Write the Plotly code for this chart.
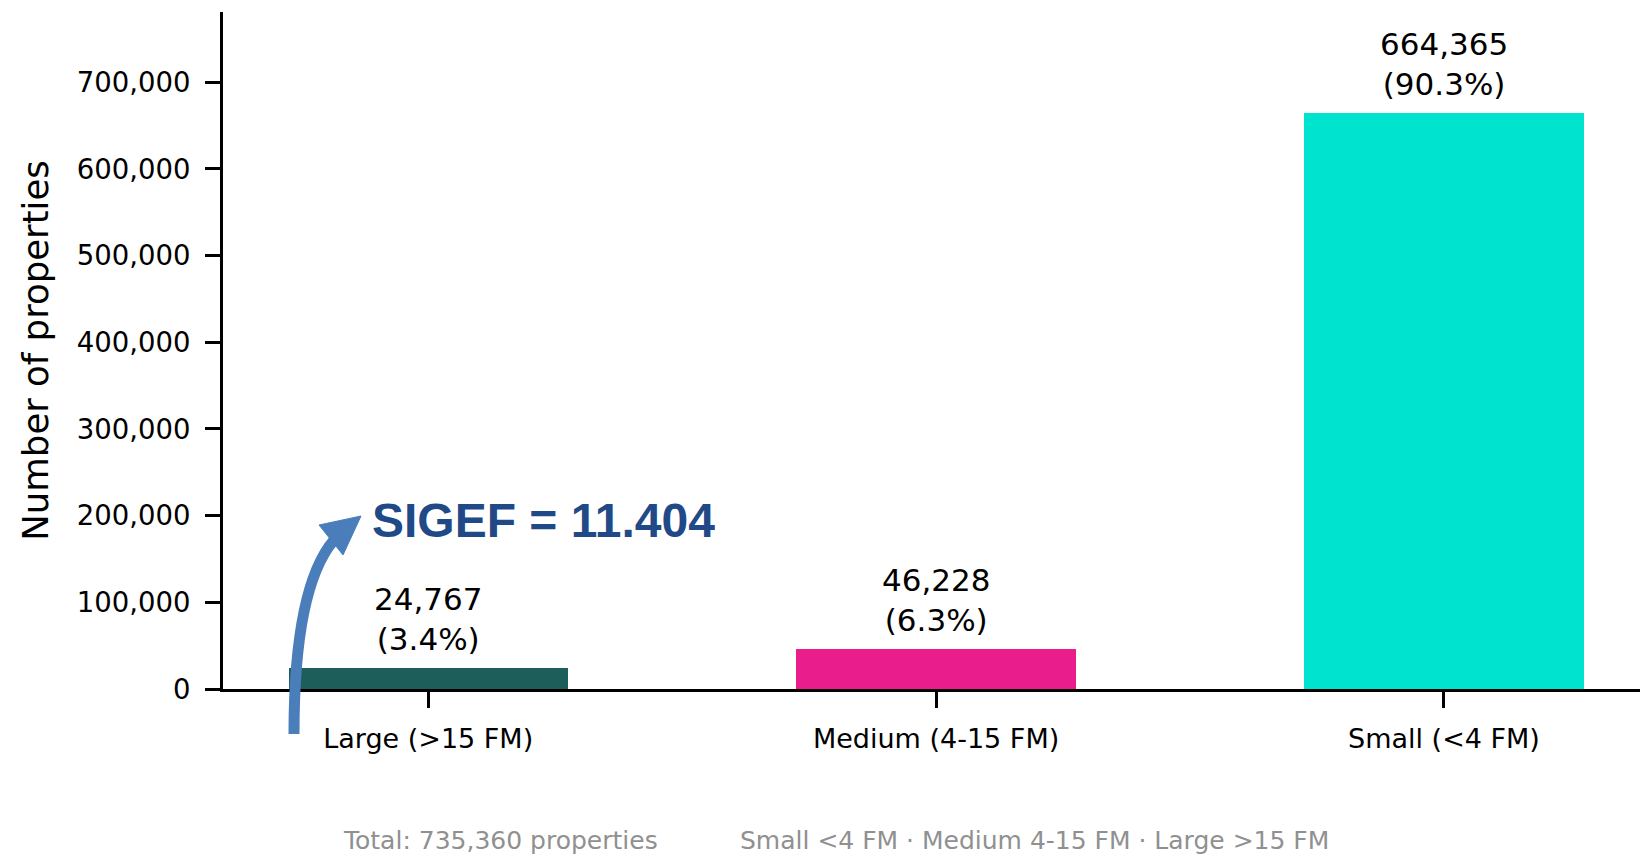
import plotly.graph_objects as go

# ---- data ----
categories = ["Large (>15 FM)", "Medium (4-15 FM)", "Small (<4 FM)"]
counts = [24767, 46228, 664365]
bar_colors = ["#1d5d5a", "#e91e8c", "#00e3cf"]
total_label = "Total: 735,360 properties"
legend_note = "Small <4 FM \u00b7 Medium 4-15 FM \u00b7 Large >15 FM"
callout = "SIGEF = 11.404"

total = sum(counts)
pcts = [c / total * 100 for c in counts]

W, H = 1640, 854
L, R, T, B = 223, 0, 12, 165
PW, PH = W - L - R, H - T - B


def px(x, y):
    """pixel -> paper coords (decoration only)"""
    return (x - L) / PW, (H - B - y) / PH


xs = list(range(len(categories)))

fig = go.Figure()
fig.add_trace(go.Bar(
    x=xs, y=counts, width=0.55,
    marker=dict(color=bar_colors, line=dict(width=0)),
    hoverinfo="skip", showlegend=False,
))

for i, (c, p) in enumerate(zip(counts, pcts)):
    fig.add_annotation(
        x=i, y=c, xref="x", yref="y", text=f"{c:,}<br>({p:.1f}%)",
        showarrow=False, yanchor="bottom", yshift=9,
        font=dict(family="DejaVu Sans", size=31, color="black"),
    )

# callout text
sx, sy = px(370, 520)
fig.add_annotation(
    x=sx, y=sy, xref="paper", yref="paper", text=f"<b>{callout}</b>",
    showarrow=False, xanchor="left", yanchor="middle",
    font=dict(family="Liberation Sans", size=48, color="#1f4a87"),
)

# curved arrow
p0 = px(294, 734)
p1 = px(294, 650)
p2 = px(304, 575)
p3 = px(334, 540)
fig.add_shape(
    type="path", xref="paper", yref="paper",
    path=f"M {p0[0]},{p0[1]} C {p1[0]},{p1[1]} {p2[0]},{p2[1]} {p3[0]},{p3[1]}",
    line=dict(color="#4a7ebb", width=11), fillcolor="rgba(0,0,0,0)",
)
t0, c1, c2 = px(361, 516), px(319, 525), px(343, 555)
fig.add_shape(
    type="path", xref="paper", yref="paper",
    path=f"M {t0[0]},{t0[1]} L {c1[0]},{c1[1]} L {c2[0]},{c2[1]} Z",
    line=dict(color="#4a7ebb", width=1), fillcolor="#4a7ebb",
)

# footer
fx1, fy = px(341, 840)
fx2, _ = px(738, 840)
for fxx, txt in [(fx1, total_label), (fx2, legend_note)]:
    fig.add_annotation(
        x=fxx, y=fy, xref="paper", yref="paper", text=txt, showarrow=False,
        xanchor="left", yanchor="middle",
        font=dict(family="DejaVu Sans", size=25, color="#909090"),
    )

fig.update_layout(
    width=W, height=H,
    margin=dict(l=L, r=R, t=T, b=B, pad=0),
    paper_bgcolor="white", plot_bgcolor="white",
    font=dict(family="DejaVu Sans", color="black"),
    bargap=0,
)
fig.update_xaxes(
    range=[-0.404, 2.386], tickvals=xs, ticktext=categories,
    showline=True, linecolor="black", linewidth=3,
    ticks="outside", ticklen=16, tickwidth=3, tickcolor="black",
    tickfont=dict(family="DejaVu Sans", size=27, color="black"),
    ticklabelstandoff=8,
    showgrid=False, zeroline=False,
)
fig.update_yaxes(
    range=[0, 781000], dtick=100000, tick0=0, tickformat=",",
    showline=True, linecolor="black", linewidth=3,
    ticks="outside", ticklen=15, tickwidth=3, tickcolor="black",
    tickfont=dict(family="DejaVu Sans", size=27.5, color="black"),
    ticklabelstandoff=9,
    title=dict(text="Number of properties", standoff=18,
               font=dict(family="DejaVu Sans", size=35.5, color="black")),
    showgrid=False, zeroline=False,
)

fig.write_html("out.html")
